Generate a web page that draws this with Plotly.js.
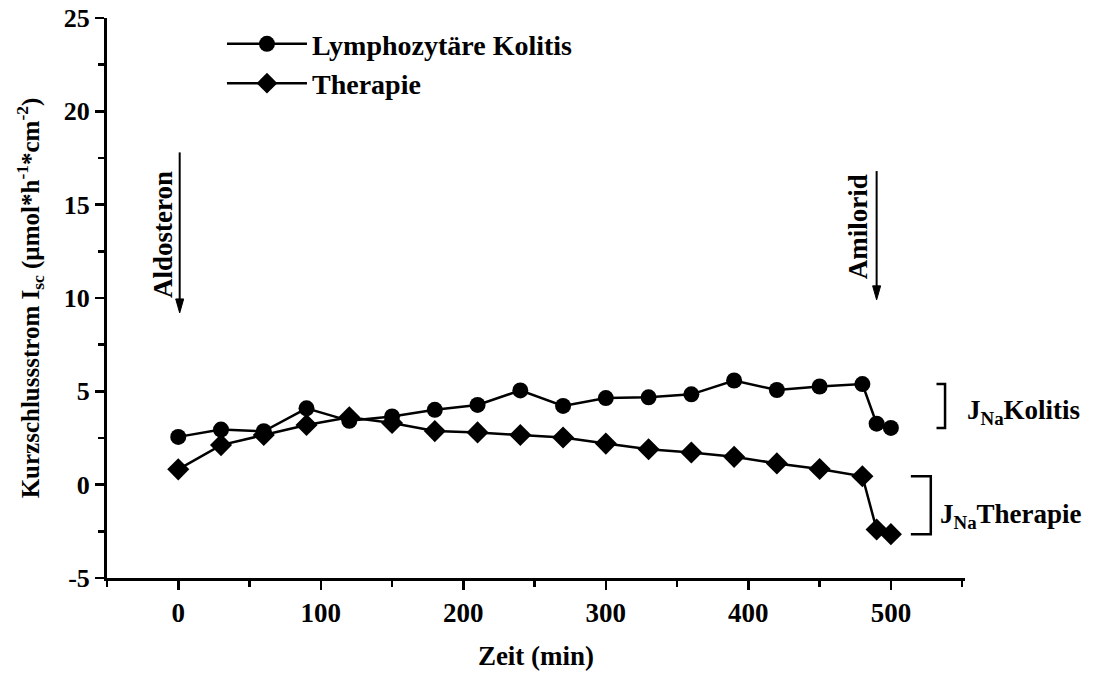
<!DOCTYPE html>
<html>
<head>
<meta charset="utf-8">
<script src="https://cdn.plot.ly/plotly-3.0.1.min.js"></script>
<style>html,body{margin:0;padding:0;background:#fff;}#chart{width:1097px;height:673px;}</style>
</head>
<body>
<div id="chart"></div>
<script>
// ---- data ----
var timeMin = [0, 30, 60, 90, 120, 150, 180, 210, 240, 270, 300, 330, 360, 390, 420, 450, 480, 490, 500];
var kolitis = [2.56, 2.95, 2.86, 4.09, 3.42, 3.65, 4.01, 4.27, 5.05, 4.22, 4.64, 4.68, 4.84, 5.58, 5.07, 5.26, 5.39, 3.27, 3.04];
var therapie = [0.82, 2.12, 2.66, 3.2, 3.61, 3.3, 2.87, 2.8, 2.66, 2.53, 2.2, 1.9, 1.72, 1.49, 1.14, 0.84, 0.45, -2.4, -2.65];
var seriesNames = ["Lymphozytäre Kolitis", "Therapie"];
var xTickVals = [0, 100, 200, 300, 400, 500];
var xTickText = ["0", "100", "200", "300", "400", "500"];
var yTickVals = [-5, 0, 5, 10, 15, 20, 25];
var yTickText = ["-5", "0", "5", "10", "15", "20", "25"];
var aldosteronTime = 1;
var amiloridTime = 490;

var FONT = "Liberation Serif, Times New Roman, serif";
var fontB = function (s) { return {family: FONT, size: s, color: "#000", weight: "bold"}; };

var traces = [
  {x: timeMin, y: kolitis, name: seriesNames[0], type: "scatter", mode: "lines+markers",
   line: {color: "#000", width: 2.5}, marker: {symbol: "circle", size: 16, color: "#000"}},
  {x: timeMin, y: therapie, name: seriesNames[1], type: "scatter", mode: "lines+markers",
   line: {color: "#000", width: 2.5}, marker: {symbol: "diamond", size: 17, color: "#000"}}
];

var n = timeMin.length;
var kTop = kolitis[n - 3], kBot = kolitis[n - 1];
var tTop = therapie[n - 3], tBot = therapie[n - 1];

function arrowShapes(xv, yTop, yTip) {
  return [
    {type: "line", xref: "x", yref: "y", x0: xv, x1: xv, y0: yTop, y1: yTip + 0.5,
     line: {color: "#000", width: 2}},
    {type: "path", xref: "x", yref: "y", fillcolor: "#000", line: {color: "#000", width: 1},
     path: "M" + (xv - 2.8) + "," + (yTip + 0.75) + " L" + (xv + 2.8) + "," + (yTip + 0.75) +
           " L" + xv + "," + yTip + " Z"}
  ];
}

var shapes = [
  {type: "path", xref: "x", yref: "y", line: {color: "#000", width: 2.5},
   path: "M532," + kTop + " L538," + kTop + " L538," + kBot + " L532," + kBot},
  {type: "path", xref: "x", yref: "y", line: {color: "#000", width: 2.5},
   path: "M514," + tTop + " L528," + tTop + " L528," + tBot + " L514," + tBot}
].concat(arrowShapes(aldosteronTime, 17.8, 9.2)).concat(arrowShapes(amiloridTime, 16.8, 9.9));

var annotations = [
  {x: aldosteronTime - 12, y: 13.4, xref: "x", yref: "y", text: "Aldosteron", showarrow: false,
   textangle: -90, font: fontB(27)},
  {x: amiloridTime - 13, y: 13.8, xref: "x", yref: "y", text: "Amilorid", showarrow: false,
   textangle: -90, font: fontB(27)},
  {x: 1.0, y: (kTop + kBot) / 2 - 0.3, xref: "paper", yref: "y", xanchor: "left", yanchor: "middle",
   text: "J<sub>Na</sub>Kolitis", showarrow: false, font: fontB(27)},
  {x: 0.969, y: (tTop + tBot) / 2 - 0.6, xref: "paper", yref: "y", xanchor: "left", yanchor: "middle",
   text: "J<sub>Na</sub>Therapie", showarrow: false, font: fontB(27)}
];

var layout = {
  width: 1097, height: 673,
  margin: {l: 107, r: 132, t: 18, b: 95},
  paper_bgcolor: "#fff", plot_bgcolor: "#fff",
  font: fontB(24),
  showlegend: true,
  legend: {x: 0.134, y: 0.998, xanchor: "left", yanchor: "top", bgcolor: "rgba(0,0,0,0)",
           font: fontB(28), itemwidth: 80},
  xaxis: {
    range: [-50, 552], showgrid: false, zeroline: false,
    showline: true, linecolor: "#000", linewidth: 3,
    ticks: "outside", ticklen: 9, tickwidth: 2.5, tickcolor: "#000",
    tickvals: xTickVals, ticktext: xTickText, tickfont: fontB(27),
    minor: {ticks: "outside", dtick: 50, tick0: 0, ticklen: 6, tickwidth: 2.5, tickcolor: "#000"},
    title: {text: "Zeit (min)", font: fontB(27), standoff: 19}
  },
  yaxis: {
    range: [-5, 25], showgrid: false, zeroline: false,
    showline: true, linecolor: "#000", linewidth: 3,
    ticks: "outside", ticklen: 9, tickwidth: 2.5, tickcolor: "#000",
    tickvals: yTickVals, ticktext: yTickText, tickfont: fontB(26),
    minor: {ticks: "outside", dtick: 2.5, tick0: 0, ticklen: 6, tickwidth: 2.5, tickcolor: "#000"},
    title: {text: "Kurzschlussstrom I<sub>sc</sub> (µmol*h<sup>-1</sup>*cm<sup>-2</sup>)", font: fontB(25), standoff: 18}
  },
  shapes: shapes,
  annotations: annotations
};

Plotly.newPlot("chart", traces, layout, {displayModeBar: false, staticPlot: true});
</script>
</body>
</html>
